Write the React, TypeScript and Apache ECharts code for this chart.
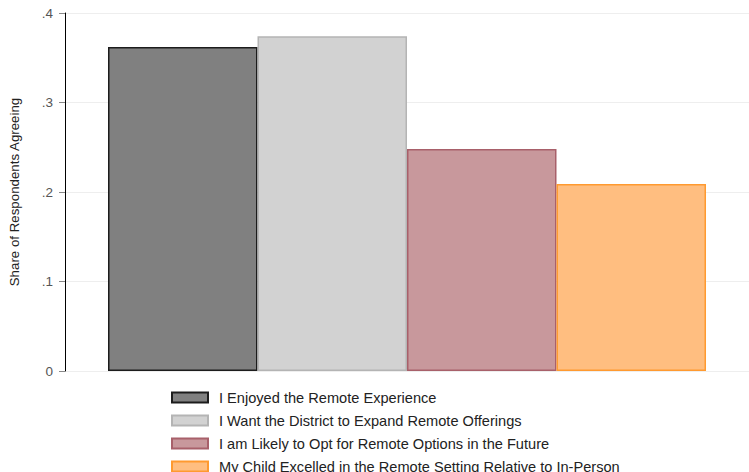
import React, { useEffect, useRef } from "react";
import * as echarts from "echarts";

const categories = [""];
const seriesNames = [
  "I Enjoyed the Remote Experience",
  "I Want the District to Expand Remote Offerings",
  "I am Likely to Opt for Remote Options in the Future",
  "My Child Excelled in the Remote Setting Relative to In-Person",
];
const seriesValues = [0.362, 0.374, 0.248, 0.209];
const fillColors = ["#808080", "#d2d2d2", "#c8989c", "#ffbe80"];
const borderColors = ["#1c1c1c", "#b4b4b4", "#a8606a", "#ff9a30"];
const yTicks = [0, 0.1, 0.2, 0.3, 0.4];

export default function App() {
  const ref = useRef<HTMLDivElement>(null);
  useEffect(() => {
    if (!ref.current) return;
    const chart = echarts.init(ref.current, null, { renderer: "svg" });
    const font = "'Liberation Sans', Arial, Helvetica, sans-serif";
    chart.setOption({
      animation: false,
      textStyle: { fontFamily: font },
      grid: { left: 59, right: -4, top: 13, bottom: 101, containLabel: false },
      legend: {
        orient: "vertical",
        left: 171,
        top: 390,
        height: 100,
        padding: 0,
        icon: "rect",
        itemWidth: 36,
        itemHeight: 10,
        itemGap: 8,
        textStyle: {
          fontSize: 14.6,
          color: "#222",
          fontFamily: font,
          lineHeight: 14,
          padding: [0, 0, 0, 6],
        },
        data: seriesNames,
      },
      xAxis: {
        type: "category",
        data: categories,
        axisLine: { show: false },
        axisTick: { show: false },
        axisLabel: { show: false },
      },
      yAxis: {
        type: "value",
        min: 0,
        max: 0.4,
        interval: 0.1,
        name: "Share of Respondents Agreeing",
        nameLocation: "middle",
        nameGap: 44,
        nameTextStyle: { fontSize: 13.3, color: "#222", fontFamily: font },
        axisLine: { show: true, lineStyle: { color: "#000", width: 1 } },
        axisTick: { show: true, length: 6, lineStyle: { color: "#888" } },
        axisLabel: {
          fontSize: 13.5,
          color: "#555",
          margin: 12,
          formatter: (v: number) => {
            const t = yTicks.find((x) => Math.abs(x - v) < 1e-9);
            if (t === 0) return "0";
            return String(Number(v.toFixed(1))).replace(/^0/, "");
          },
        },
        splitLine: { show: true, lineStyle: { color: "#eeeeee", width: 1 } },
      },
      series: seriesNames.map((name, i) => ({
        name,
        type: "bar",
        data: [seriesValues[i]],
        barWidth: 149.5,
        barGap: "0%",
        itemStyle: {
          color: fillColors[i],
          borderColor: borderColors[i],
          borderWidth: 1.5,
        },
      })),
    });
    return () => chart.dispose();
  }, []);
  return (
    <div
      ref={ref}
      style={{ position: "absolute", left: 0, top: 0, width: 749, height: 472 }}
    />
  );
}
